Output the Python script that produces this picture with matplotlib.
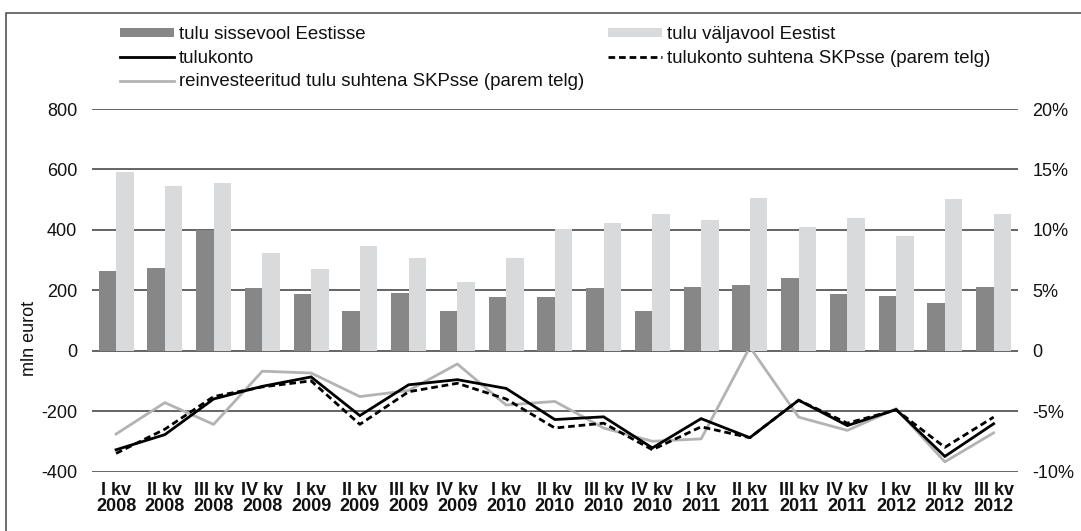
import matplotlib
matplotlib.use('Agg')
import matplotlib.pyplot as plt
import numpy as np
from matplotlib.patches import Rectangle

plt.rcParams['font.family'] = ['Liberation Sans', 'DejaVu Sans']

# ---- data ----
quarters = ["I kv\n2008", "II kv\n2008", "III kv\n2008", "IV kv\n2008",
            "I kv\n2009", "II kv\n2009", "III kv\n2009", "IV kv\n2009",
            "I kv\n2010", "II kv\n2010", "III kv\n2010", "IV kv\n2010",
            "I kv\n2011", "II kv\n2011", "III kv\n2011", "IV kv\n2011",
            "I kv\n2012", "II kv\n2012", "III kv\n2012"]
inflow = [265, 273, 398, 206, 186, 132, 192, 132, 177, 177,
          207, 132, 212, 216, 242, 186, 182, 158, 212]
outflow = [590, 546, 556, 324, 271, 345, 307, 226, 307, 404,
           424, 452, 432, 507, 408, 438, 378, 501, 452]
account = [-328, -278, -160, -118, -87, -215, -113, -96, -125, -228,
           -219, -322, -225, -288, -164, -248, -195, -350, -242]
account_pct = [-8.5, -6.5, -3.8, -3.0, -2.5, -6.1, -3.4, -2.7, -4.0, -6.4,
               -6.0, -8.2, -6.3, -7.2, -4.1, -6.0, -4.9, -8.0, -5.5]
reinvest_pct = [-6.9, -4.3, -6.1, -1.7, -1.85, -3.8, -3.3, -1.1, -4.5, -4.2,
                -6.4, -7.5, -7.3, 0.3, -5.5, -6.6, -4.8, -9.2, -6.8]
left_ticks = [-400, -200, 0, 200, 400, 600, 800]
right_ticks = [-10, -5, 0, 5, 10, 15, 20]
right_ticklabels = ["-10%", "-5%", "0", "5%", "10%", "15%", "20%"]

labels = ["tulu sissevool Eestisse", "tulu väljavool Eestist", "tulukonto",
          "tulukonto suhtena SKPsse (parem telg)",
          "reinvesteeritud tulu suhtena SKPsse (parem telg)"]

# ---- styles ----
c_dark = '#878787'
c_light = '#d9dadb'
c_gray = '#b3b3b3'
c_grid = '#3a3a3a'
FS = 13

W, H = 1081, 531
fig = plt.figure(figsize=(W / 100, H / 100), dpi=100)
x0, x1, ytop, ybot = 91.7, 1018, 109, 471.5
ax = fig.add_axes([x0 / W, 1 - ybot / H, (x1 - x0) / W, (ybot - ytop) / H])
ax2 = ax.twinx()
ax.set_zorder(ax2.get_zorder() + 1)
ax.patch.set_visible(False)

x = np.arange(len(quarters))
w = 0.36
b1 = ax.bar(x - w / 2, inflow, width=w, color=c_dark, zorder=2)
b2 = ax.bar(x + w / 2, outflow, width=w, color=c_light, zorder=2)
l1, = ax.plot(x, account, color='black', lw=2.0, zorder=4, solid_joinstyle='miter')
l2, = ax2.plot(x, account_pct, color='black', lw=2.0, dashes=(2.4, 1.4), zorder=3)
l3, = ax2.plot(x, reinvest_pct, color=c_gray, lw=2.0, zorder=2)

ax.set_xlim(-0.5, len(quarters) - 0.5)
ax.set_ylim(-400, 800)
ax2.set_ylim(-10, 20)
ax.set_yticks(left_ticks)
ax.set_yticklabels([str(v) for v in left_ticks])
ax2.set_yticks(right_ticks)
ax2.set_yticklabels(right_ticklabels)
ax.set_xticks(x)
ax.set_xticklabels(quarters, fontweight='bold', linespacing=0.95)
for a in (ax, ax2):
    for s in a.spines.values():
        s.set_visible(False)
    a.tick_params(length=0, labelsize=FS, colors='#111111')
ax.tick_params(axis='y', pad=10.5)
ax2.tick_params(axis='y', pad=10.5)
ax.tick_params(axis='x', pad=7.5)
ax2.grid(axis='y', color=c_grid, lw=1.1)
ax2.set_axisbelow(True)
ax.grid(False)

ax.set_ylabel("mln eurot", fontsize=FS, color='#111111')
ax.yaxis.set_label_coords(-0.058, 0.366)

handles = [b1, l1, l3, b2, l2]
hlabels = [labels[0], labels[2], labels[4], labels[1], labels[3]]
leg = fig.legend(handles, hlabels, loc='upper left',
                 bbox_to_anchor=(120 / W, 1 - 26 / H), ncol=2, frameon=False,
                 fontsize=13.4, borderpad=0, borderaxespad=0, handlelength=2.9,
                 handleheight=0.37, handletextpad=0.27, labelspacing=0.36,
                 columnspacing=1.3)
for t in leg.get_texts():
    t.set_color('#111111')

# outer frame (left and top visible)
fig.patches.append(Rectangle((5.5 / W, -0.2), 2.0, 1.2 - 12.7 / H,
                             transform=fig.transFigure, fill=False,
                             edgecolor='#555555', lw=1.2))

fig.savefig('out.png', dpi=100)
